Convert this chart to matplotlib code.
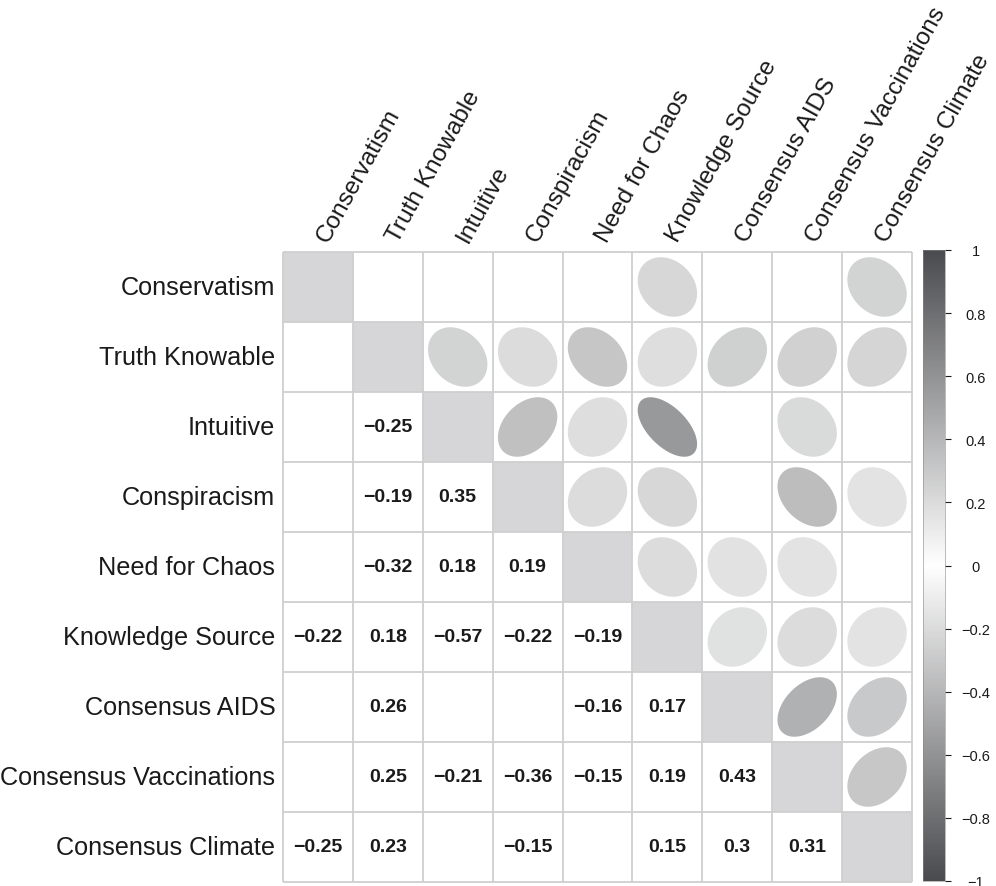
import numpy as np
import matplotlib
matplotlib.use('Agg')
import matplotlib.pyplot as plt
from matplotlib.colors import LinearSegmentedColormap, Normalize
from matplotlib.cm import ScalarMappable
from matplotlib.patches import Polygon, Rectangle

plt.rcParams['font.family'] = ['Liberation Sans', 'DejaVu Sans']

labels = ['Conservatism', 'Truth Knowable', 'Intuitive', 'Conspiracism',
          'Need for Chaos', 'Knowledge Source', 'Consensus AIDS',
          'Consensus Vaccinations', 'Consensus Climate']

nan = np.nan
# lower triangle, one list per row (columns left of the diagonal); nan = not significant
row_truth_knowable = [nan]
row_intuitive = [nan, -0.25]
row_conspiracism = [nan, -0.19, 0.35]
row_need_for_chaos = [nan, -0.32, 0.18, 0.19]
row_knowledge_source = [-0.22, 0.18, -0.57, -0.22, -0.19]
row_consensus_aids = [nan, 0.26, nan, nan, -0.16, 0.17]
row_consensus_vacc = [nan, 0.25, -0.21, -0.36, -0.15, 0.19, 0.43]
row_consensus_climate = [-0.25, 0.23, nan, -0.15, nan, 0.15, 0.3, 0.31]

lower_rows = [[], row_truth_knowable, row_intuitive, row_conspiracism,
              row_need_for_chaos, row_knowledge_source, row_consensus_aids,
              row_consensus_vacc, row_consensus_climate]

n = len(labels)
corr = np.full((n, n), nan)
for i, vals in enumerate(lower_rows):
    for j, v in enumerate(vals):
        corr[i, j] = v
        corr[j, i] = v

cmap = LinearSegmentedColormap.from_list(
    'greys_div', ['#4a4b4e', '#ffffff', '#4a4b4e'])
norm = Normalize(-1, 1)

W, H = 996, 887
fig = plt.figure(figsize=(W / 100, H / 100), dpi=100)
ax = fig.add_axes([283 / W, (H - 883) / H, 629 / W, 630 / H])
ax.set_xlim(0, n)
ax.set_ylim(n, 0)
ax.axis('off')

grid_col = '#cfcfcf'
diag_col = '#d6d6d9'


def ellipse_xy(r, cx, cy, size=0.85, npts=100):
    k = np.linspace(0, 2 * np.pi, npts)
    d = np.arccos(r)
    x = size * np.cos(k + d / 2) / 2
    y = size * np.cos(k - d / 2) / 2
    # y axis runs downward, so flip y
    return np.column_stack([cx + x, cy - y])


for i in range(n):
    ax.add_patch(Rectangle((i, i), 1, 1, facecolor=diag_col,
                           edgecolor='none', zorder=1))
    for j in range(n):
        v = corr[i, j]
        if np.isnan(v) or i == j:
            continue
        if j > i:
            ax.add_patch(Polygon(ellipse_xy(v, j + 0.5, i + 0.5),
                                 closed=True, facecolor=cmap(norm(v)),
                                 edgecolor='none', zorder=2))
        else:
            txt = f'{v:g}'.replace('-', '\u2212')
            ax.text(j + 0.5, i + 0.5, txt, ha='center', va='center',
                    fontsize=14, fontweight='bold', color='#1a1a1a',
                    zorder=3)

for k in range(n + 1):
    ax.plot([k, k], [0, n], color=grid_col, lw=1.3, zorder=4,
            solid_capstyle='butt', clip_on=False)
    ax.plot([0, n], [k, k], color=grid_col, lw=1.3, zorder=4,
            solid_capstyle='butt', clip_on=False)

# row labels on the left, column labels rotated above the grid
for i, lab in enumerate(labels):
    ax.text(-0.11, i + 0.5, lab, ha='right', va='center', fontsize=18.2,
            color='#1a1a1a')
    ax.text(i + 0.64, -0.13, lab, ha='left', va='baseline', fontsize=17.6,
            rotation=61, rotation_mode='anchor', color='#1a1a1a')

# colour legend
cax = fig.add_axes([923 / W, (H - 882) / H, 22 / W, 631 / H])
sm = ScalarMappable(norm=norm, cmap=cmap)
tick_vals = np.round(np.arange(-1, 1.01, 0.2), 1) + 0.0
cb = fig.colorbar(sm, cax=cax, ticks=tick_vals)
cb.outline.set_linewidth(0.4)
cb.outline.set_edgecolor('#888888')
cb.set_ticklabels(['0' if abs(t) < 1e-9 else f'{t:g}'.replace('-', '\u2212')
                   for t in tick_vals])
cax.tick_params(length=4, width=0.8, pad=18, labelsize=10.5,
                colors='#1a1a1a')
for t in cax.get_yticklabels():
    t.set_horizontalalignment('center')

fig.savefig('out.png', dpi=100)
